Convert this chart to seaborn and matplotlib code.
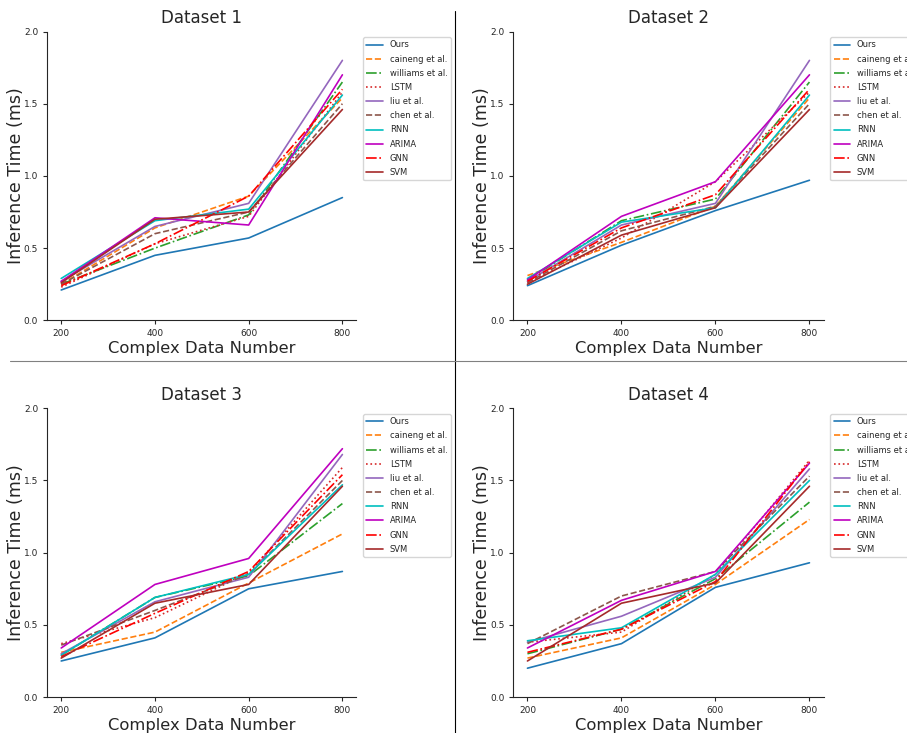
import numpy as np
import pandas as pd
import matplotlib
matplotlib.use('Agg')
import matplotlib.pyplot as plt
from matplotlib.lines import Line2D
import seaborn as sns

# Duomenys (nuskaityti nuo paveikslo)
sizes = [200, 400, 600, 800]
methods = ['Ours', 'caineng et al.', 'williams et al.', 'LSTM', 'liu et al.',
           'chen et al.', 'RNN', 'ARIMA', 'GNN', 'SVM']
colors = ['tab:blue', 'tab:orange', 'tab:green', 'tab:red', 'tab:purple',
          'tab:brown', 'c', 'm', 'r', 'brown']
styles = ['-', '--', '-.', ':', '-', '--', '-', '-', '-.', '-']

# eilutės tokia pačia tvarka kaip methods
ds1 = [[0.21, 0.45, 0.57, 0.85],
       [0.25, 0.64, 0.86, 1.54],
       [0.25, 0.50, 0.73, 1.65],
       [0.23, 0.53, 0.72, 1.58],
       [0.27, 0.65, 0.81, 1.80],
       [0.25, 0.60, 0.75, 1.50],
       [0.29, 0.69, 0.77, 1.56],
       [0.27, 0.71, 0.66, 1.70],
       [0.24, 0.53, 0.86, 1.60],
       [0.26, 0.70, 0.75, 1.46]]
ds2 = [[0.24, 0.52, 0.76, 0.97],
       [0.31, 0.54, 0.79, 1.54],
       [0.28, 0.69, 0.84, 1.65],
       [0.26, 0.57, 0.96, 1.58],
       [0.27, 0.66, 0.81, 1.80],
       [0.26, 0.62, 0.79, 1.50],
       [0.29, 0.68, 0.78, 1.56],
       [0.28, 0.72, 0.96, 1.70],
       [0.27, 0.64, 0.87, 1.60],
       [0.25, 0.59, 0.78, 1.46]]
ds3 = [[0.25, 0.41, 0.75, 0.87],
       [0.31, 0.45, 0.79, 1.13],
       [0.29, 0.69, 0.84, 1.34],
       [0.37, 0.55, 0.86, 1.59],
       [0.30, 0.66, 0.83, 1.68],
       [0.36, 0.60, 0.85, 1.50],
       [0.29, 0.69, 0.85, 1.47],
       [0.34, 0.78, 0.96, 1.72],
       [0.28, 0.58, 0.87, 1.54],
       [0.27, 0.65, 0.78, 1.46]]
ds4 = [[0.20, 0.37, 0.76, 0.93],
       [0.27, 0.41, 0.78, 1.23],
       [0.30, 0.47, 0.82, 1.35],
       [0.38, 0.45, 0.85, 1.64],
       [0.38, 0.56, 0.83, 1.58],
       [0.37, 0.70, 0.87, 1.53],
       [0.39, 0.48, 0.85, 1.50],
       [0.34, 0.67, 0.87, 1.62],
       [0.31, 0.47, 0.80, 1.63],
       [0.25, 0.65, 0.79, 1.46]]
datasets = [ds1, ds2, ds3, ds4]
titles = ['Dataset 1', 'Dataset 2', 'Dataset 3', 'Dataset 4']

sns.set_style('ticks')
plt.rcParams['font.family'] = ['DejaVu Sans']

fig = plt.figure(figsize=(9.07, 7.33), dpi=100)
positions = [[0.052, 0.563, 0.341, 0.394],
             [0.566, 0.563, 0.342, 0.394],
             [0.052, 0.049, 0.341, 0.394],
             [0.566, 0.049, 0.342, 0.394]]

for k, ds in enumerate(datasets):
    ax = fig.add_axes(positions[k])
    for i, name in enumerate(methods):
        sns.lineplot(x=sizes, y=ds[i], ax=ax, color=colors[i],
                     linestyle=styles[i], linewidth=1.2, label=name)
    ax.set_ylim(0, 2.0)
    ax.set_yticks([0.0, 0.5, 1.0, 1.5, 2.0])
    ax.set_xticks(sizes)
    ax.tick_params(labelsize=6.5, length=3)
    ax.set_title(titles[k], fontsize=12)
    ax.set_xlabel('Complex Data Number', fontsize=11.8, labelpad=2)
    ax.set_ylabel('Inference Time (ms)', fontsize=12.6, labelpad=-1)
    sns.despine(ax=ax)
    ax.legend(loc='upper left', bbox_to_anchor=(1.008, 0.995), fontsize=6,
              handlelength=2.0, labelspacing=0.62)

# skiriamosios linijos
fig.add_artist(Line2D([0.5017, 0.5017], [0.0, 0.985], color='black', linewidth=0.8))
fig.add_artist(Line2D([0.011, 1.0], [0.507, 0.507], color='gray', linewidth=0.8))

fig.savefig('out.png', dpi=100)
